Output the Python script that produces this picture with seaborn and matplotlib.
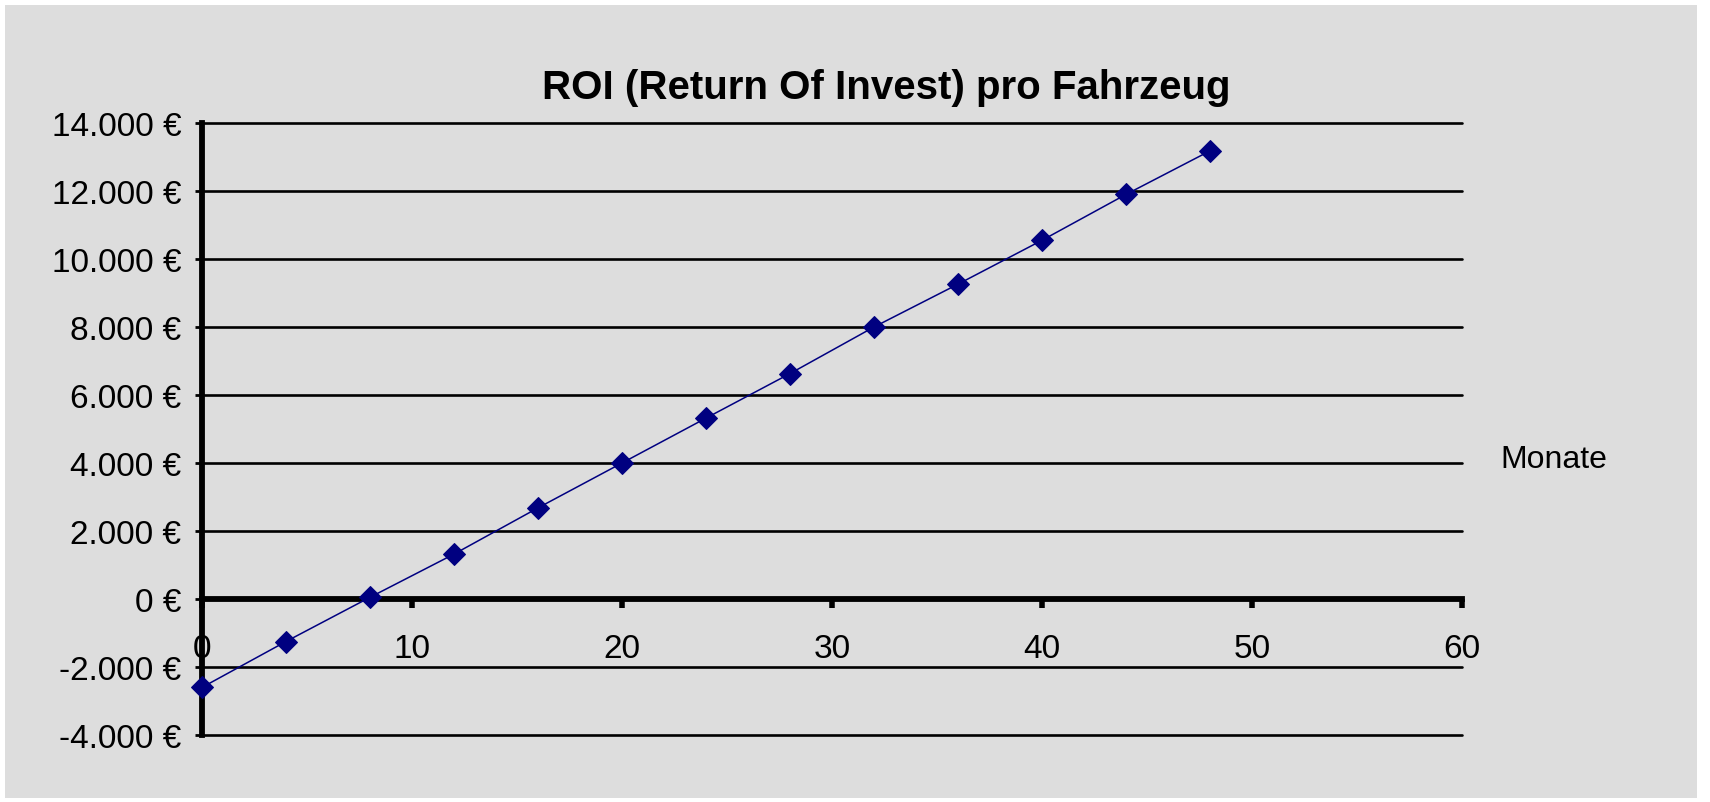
import matplotlib
matplotlib.use("Agg")
import matplotlib.pyplot as plt
from matplotlib.patches import Rectangle
from matplotlib.ticker import FuncFormatter, MultipleLocator
import seaborn as sns
import pandas as pd

# Data
monate = [0, 4, 8, 12, 16, 20, 24, 28, 32, 36, 40, 44, 48]
roi = [-2600, -1250, 50, 1320, 2680, 4000, 5320, 6630, 8000, 9260, 10550, 11900, 13180]
title = "ROI (Return Of Invest) pro Fahrzeug"
xlabel = "Monate"

sns.set_style("white")
plt.rcParams['font.family'] = ['Liberation Sans', 'DejaVu Sans']
plt.rcParams['text.color'] = 'black'
plt.rcParams['axes.labelcolor'] = 'black'

W, H = 1710, 803
fig = plt.figure(figsize=(W / 100, H / 100), dpi=100, facecolor="white")
bg = "#DDDDDD"
rect = Rectangle((5 / W, 1 - 799 / H), 1692 / W, 793 / H,
                 transform=fig.transFigure, facecolor=bg,
                 edgecolor="none", zorder=-10)
fig.add_artist(rect)

L, R, T, B = 202, 1462, 124, 736
ax = fig.add_axes([L / W, 1 - B / H, (R - L) / W, (B - T) / H])
ax.set_facecolor(bg)

df = pd.DataFrame({"Monate": monate, "ROI": roi})
sns.lineplot(data=df, x="Monate", y="ROI", ax=ax, color="#000080",
             linewidth=1.1, marker="D", markersize=11,
             markeredgecolor="#000080", markerfacecolor="#000080",
             zorder=5, clip_on=False)

ax.set_xlim(0, 60)
ax.set_ylim(-4000, 14000)
ax.xaxis.set_major_locator(MultipleLocator(10))
ax.yaxis.set_major_locator(MultipleLocator(2000))

def euro(v, pos):
    return f"{v:,.0f} €".replace(",", ".")

ax.yaxis.set_major_formatter(FuncFormatter(euro))

# grid
ax.grid(axis="y", color="black", linewidth=1.9, zorder=1)
ax.grid(axis="x", visible=False)
for gl in ax.get_ygridlines():
    gl.set_clip_on(False)

for s in ["top", "right"]:
    ax.spines[s].set_visible(False)
ax.spines["bottom"].set_position(("data", 0))
ax.spines["bottom"].set_linewidth(4.2)
ax.spines["left"].set_linewidth(4.2)
ax.spines["bottom"].set_color("black")
ax.spines["left"].set_color("black")
ax.spines["bottom"].set_zorder(3)

ax.tick_params(axis="y", direction="out", length=5, width=2, pad=10,
               labelsize=24, colors="black", left=True)
ax.tick_params(axis="x", direction="out", length=6.5, width=4, pad=18,
               labelsize=24, colors="black", bottom=True)

ax.set_ylabel("")
ax.set_xlabel(xlabel, fontsize=23, color="black")
ax.xaxis.set_label_coords((1554 - L) / (R - L), (B - 460) / (B - T))
ax.xaxis.label.set_verticalalignment("center")

ax.set_title(title, fontsize=29, fontweight="bold", pad=18, color="black",
             x=(886 - L) / (R - L))

fig.savefig("out.png", dpi=100, facecolor="white")
